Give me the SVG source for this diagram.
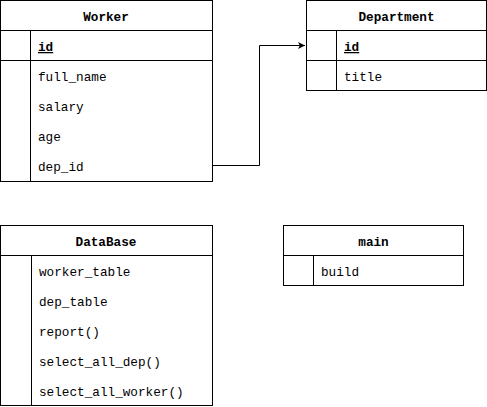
<svg xmlns="http://www.w3.org/2000/svg" width="487" height="407" viewBox="0 0 487 407">
<style>
.box{fill:#fff;stroke:#000;stroke-width:1}
.ln{fill:none;stroke:#000;stroke-width:1}
text{font-family:"Liberation Mono","Courier New",monospace;font-size:12.7px;fill:#000}
.h{font-weight:bold;text-anchor:middle}
.k{font-weight:bold;text-decoration:underline}
</style>
<defs>
<marker id="arr" markerWidth="8" markerHeight="8" refX="7" refY="4" orient="auto" markerUnits="userSpaceOnUse">
<path d="M0,0.5 L7,4 L0,7.5 L1.8,4 Z" fill="#000"/>
</marker>
</defs>
<rect width="487" height="407" fill="#fff"/>
<g id="connectors">
<path class="ln" d="M212.5 165.5 H259.5 V45.5 H305" marker-end="url(#arr)"/>
</g>
<g id="worker">
<rect class="box" x="0.5" y="0.5" width="212" height="181"/>
<path class="ln" d="M0.5 30.5 H212.5 M0.5 60.5 H212.5 M30.5 30.5 V181.5"/>
<text class="h" x="106" y="21">Worker</text>
<text class="k" x="38" y="51">id</text>
<text x="38" y="81">full_name</text>
<text x="38" y="111">salary</text>
<text x="38" y="141">age</text>
<text x="38" y="171">dep_id</text>
</g>
<g id="department">
<rect class="box" x="306.5" y="0.5" width="180" height="90"/>
<path class="ln" d="M306.5 30.5 H486.5 M306.5 60.5 H486.5 M336.5 30.5 V90.5"/>
<text class="h" x="396.5" y="21">Department</text>
<text class="k" x="344" y="51">id</text>
<text x="344" y="81">title</text>
</g>
<g id="database">
<rect class="box" x="0.5" y="225.5" width="212" height="180"/>
<path class="ln" d="M0.5 255.5 H212.5 M31.5 255.5 V405.5"/>
<text class="h" x="106" y="246">DataBase</text>
<text x="39" y="276">worker_table</text>
<text x="39" y="306">dep_table</text>
<text x="39" y="336">report()</text>
<text x="39" y="366">select_all_dep()</text>
<text x="39" y="396">select_all_worker()</text>
</g>
<g id="main">
<rect class="box" x="283.5" y="225.5" width="180" height="60"/>
<path class="ln" d="M283.5 255.5 H463.5 M313.5 255.5 V285.5"/>
<text class="h" x="373.5" y="246">main</text>
<text x="321" y="276">build</text>
</g>
</svg>
